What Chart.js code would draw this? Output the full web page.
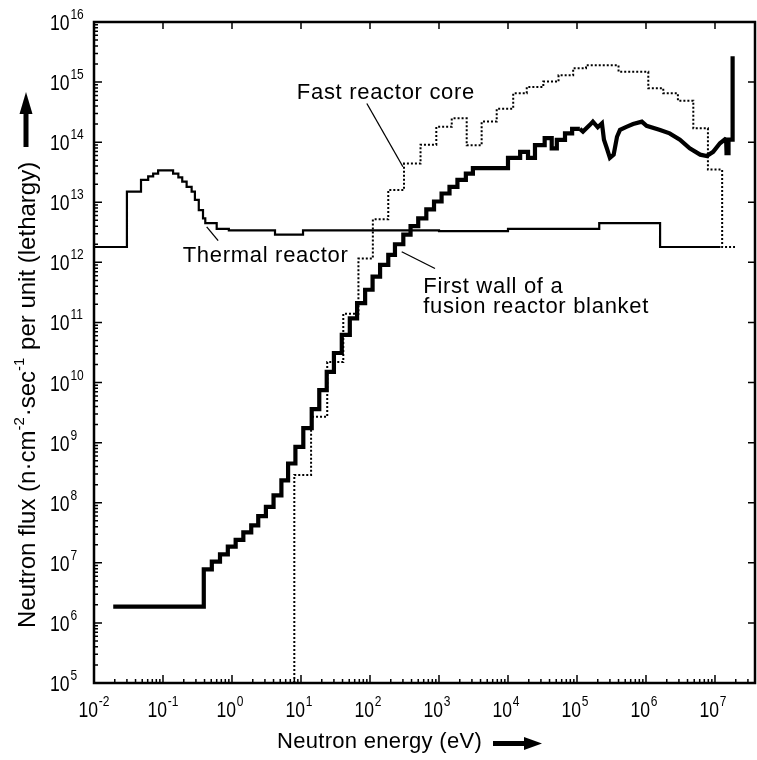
<!DOCTYPE html>
<html>
<head>
<meta charset="utf-8">
<script src="https://cdn.jsdelivr.net/npm/chart.js@4.4.1/dist/chart.umd.min.js"></script>
<style>
  body { margin: 0; background: #fff; }
  canvas { display: block; }
</style>
</head>
<body>
<canvas id="mygraph" width="757" height="760"></canvas>
<script>
// energies in eV = left edge of each step, last value closes the line
const thermalEnergy = [0.01, 0.03, 0.048, 0.061, 0.072, 0.085, 0.14, 0.167, 0.19, 0.22, 0.26, 0.29, 0.33, 0.38, 0.41, 0.6, 0.9, 4.2, 10.7, 1000, 1e4, 2.1e5, 1.6e6, 1.2e7]
const thermalFlux = [1.8e12, 1.5e13, 2.35e13, 2.7e13, 3.0e13, 3.4e13, 3.0e13, 2.6e13, 2.2e13, 1.8e13, 1.5e13, 1.1e13, 7.4e12, 5.4e12, 4.5e12, 3.6e12, 3.4e12, 2.9e12, 3.4e12, 3.3e12, 3.6e12, 4.5e12, 1.8e12, 1.8e12]

const fastEnergy = [8, 8, 14, 24, 41, 68, 110, 184, 311, 540, 914, 1530, 2520, 4150, 6860, 1.19e4, 1.87e4, 3.25e4, 5.4e4, 8.8e4, 1.35e5, 4.0e5, 1.08e6, 1.78e6, 2.9e6, 4.85e6, 7.9e6, 1.27e7, 1.95e7]
const fastFlux = [1e5, 2.9e8, 2.7e9, 2.2e10, 1.4e11, 1.16e12, 5.2e12, 1.6e13, 4.4e13, 9.1e13, 1.8e14, 2.5e14, 8.9e13, 2.2e14, 3.6e14, 6.5e14, 8.3e14, 1.02e15, 1.3e15, 1.7e15, 1.9e15, 1.48e15, 7.9e14, 6.5e14, 4.9e14, 1.7e14, 3.5e13, 1.8e12, 1.8e12]

// first wall of fusion blanket: staircase part, then the continuous part
const fusionStepEnergy = [0.019, 0.39, 0.51, 0.67, 0.87, 1.13, 1.46, 1.9, 2.4, 3.1, 4.0, 5.2, 6.5, 8.3, 10.8, 14.3, 18.4, 23.6, 30, 39, 51, 65, 85, 109, 140, 184, 230, 304, 387, 500, 655, 847, 1090, 1420, 1850, 2450, 3100, 3900, 1.0e4, 1.5e4, 1.95e4, 2.46e4, 3.4e4, 4.3e4, 5.1e4, 6.7e4, 8.5e4, 1.1e5]
const fusionStepFlux = [1.87e6, 7.8e6, 1.05e7, 1.38e7, 1.86e7, 2.4e7, 3.2e7, 4.2e7, 6.0e7, 8.5e7, 1.33e8, 2.36e8, 4.5e8, 8.5e8, 1.74e9, 3.6e9, 7.5e9, 1.5e10, 3.1e10, 6.2e10, 1.17e11, 2.1e11, 3.5e11, 5.8e11, 9.1e11, 1.33e12, 2.0e12, 2.9e12, 4.0e12, 5.4e12, 7.6e12, 1.03e13, 1.4e13, 1.8e13, 2.35e13, 3.0e13, 3.7e13, 3.7e13, 5.5e13, 6.9e13, 5.5e13, 8.9e13, 1.17e14, 7.9e13, 1.09e14, 1.4e14, 1.66e14, 1.66e14]
const fusionCurveEnergy = [1.1e5, 1.22e5, 1.54e5, 1.7e5, 2.0e5, 2.3e5, 2.46e5, 2.7e5, 3.0e5, 3.4e5, 3.8e5, 4.2e5, 5.2e5, 6.5e5, 8.7e5, 1.02e6, 1.6e6, 2.2e6, 3.1e6, 4.3e6, 6.1e6, 7.6e6, 9.4e6, 1.18e7, 1.4e7, 1.45e7, 1.47e7, 1.55e7, 1.57e7, 1.8e7, 1.8e7]
const fusionCurveFlux = [1.66e14, 1.5e14, 1.94e14, 2.2e14, 1.77e14, 2.06e14, 1.1e14, 8.0e13, 5.5e13, 6.2e13, 1.23e14, 1.6e14, 1.8e14, 2.0e14, 2.2e14, 1.87e14, 1.6e14, 1.4e14, 1.1e14, 7.9e13, 6.2e13, 5.9e13, 6.9e13, 9.6e13, 1.12e14, 1.1e14, 6.6e13, 6.6e13, 1.1e14, 1.1e14, 2.7e15]

const xDecades = [-2, -1, 0, 1, 2, 3, 4, 5, 6, 7]
const yDecades = [5, 6, 7, 8, 9, 10, 11, 12, 13, 14, 15, 16]

const FONT = '"Liberation Sans", Arial, sans-serif'

function toPoints(xs, ys) {
  return xs.map((x, i) => ({ x: x, y: ys[i] }))
}

// "10" with a raised exponent, a bit condensed like the original lettering
function drawPower(ctx, left, baseline, exp) {
  ctx.save()
  ctx.translate(left, baseline)
  ctx.scale(0.8, 1)
  ctx.font = '22px ' + FONT
  ctx.textAlign = 'left'
  ctx.textBaseline = 'alphabetic'
  ctx.fillText('10', 0, 0)
  const w = ctx.measureText('10').width
  ctx.font = '15px ' + FONT
  ctx.fillText(String(exp), w + 1, -11)
  ctx.restore()
}
function powerBaseWidth(ctx) {
  ctx.save()
  ctx.font = '22px ' + FONT
  const w = ctx.measureText('10').width * 0.8
  ctx.restore()
  return w
}

const axesPlugin = {
  id: 'axes',
  afterDatasetsDraw(chart) {
    const ctx = chart.ctx
    const area = chart.chartArea
    const xs = chart.scales.x
    const ys = chart.scales.y
    ctx.save()
    ctx.strokeStyle = '#000'
    ctx.fillStyle = '#000'

    // frame
    ctx.lineWidth = 2.5
    ctx.strokeRect(area.left, area.top, area.right - area.left, area.bottom - area.top)

    // ticks, all pointing inwards
    ctx.lineWidth = 1.5
    ctx.beginPath()
    xDecades.forEach(d => {
      for (let m = 1; m <= 9; m++) {
        const v = m * Math.pow(10, d)
        if (v > xs.max) break
        const px = xs.getPixelForValue(v)
        ctx.moveTo(px, area.bottom)
        ctx.lineTo(px, area.bottom - (m === 1 ? 8 : 4))
        if (m === 1) {
          ctx.moveTo(px, area.top)
          ctx.lineTo(px, area.top + 7)
        }
      }
    })
    yDecades.forEach(d => {
      for (let m = 1; m <= 9; m++) {
        const v = m * Math.pow(10, d)
        if (v > ys.max) break
        const py = ys.getPixelForValue(v)
        ctx.moveTo(area.left, py)
        ctx.lineTo(area.left + (m === 1 ? 8 : 4), py)
        if (m === 1) {
          ctx.moveTo(area.right, py)
          ctx.lineTo(area.right - 7, py)
        }
      }
    })
    ctx.stroke()

    // tick labels
    const bw = powerBaseWidth(ctx)
    xDecades.forEach(d => {
      const px = xs.getPixelForValue(Math.pow(10, d))
      drawPower(ctx, px + 4 - bw, area.bottom + 34, d)
    })
    yDecades.forEach(d => {
      const py = ys.getPixelForValue(Math.pow(10, d))
      drawPower(ctx, 50, py + 8, d)
    })

    // curve labels with leader lines
    ctx.font = '22px ' + FONT
    ctx.letterSpacing = '0.7px'
    ctx.textAlign = 'left'
    ctx.textBaseline = 'alphabetic'
    const P = (e, f) => [xs.getPixelForValue(e), ys.getPixelForValue(f)]
    let p = P(8.7, 5.24e14); ctx.fillText('Fast reactor core', p[0], p[1])
    p = P(0.193, 1.03e12); ctx.fillText('Thermal reactor', p[0], p[1])
    p = P(592, 3.06e11); ctx.fillText('First wall of a', p[0], p[1])
    p = P(592, 1.42e11); ctx.fillText('fusion reactor blanket', p[0], p[1])
    ctx.lineWidth = 1.3
    const leader = (e1, f1, e2, f2) => {
      const a = P(e1, f1), b = P(e2, f2)
      ctx.beginPath(); ctx.moveTo(a[0], a[1]); ctx.lineTo(b[0], b[1]); ctx.stroke()
    }
    leader(90, 4.4e14, 300, 3.9e13)
    leader(0.43, 3.9e12, 0.63, 2.3e12)
    leader(288, 1.5e12, 875, 7.9e11)

    // x axis title + arrow
    ctx.letterSpacing = '0.3px'
    ctx.fillText('Neutron energy (eV)', 277, 748)
    ctx.fillRect(493, 741, 33, 5)
    ctx.beginPath(); ctx.moveTo(524, 737); ctx.lineTo(542, 743.5); ctx.lineTo(524, 750); ctx.closePath(); ctx.fill()

    // y axis title (rotated) + arrow
    ctx.save()
    ctx.letterSpacing = '0px'
    ctx.translate(35, 628)
    ctx.rotate(-Math.PI / 2)
    const parts = [['Neutron flux (n\u00b7cm', false], ['-2', true], ['\u00b7sec', false], ['-1', true], [' per unit (lethargy)', false]]
    let x = 0
    parts.forEach(([t, sup]) => {
      ctx.font = (sup ? '15px ' : '24px ') + FONT
      ctx.fillText(t, x, sup ? -11 : 0)
      x += ctx.measureText(t).width + (sup ? 1 : 0)
    })
    ctx.restore()
    ctx.fillRect(23.5, 110, 5, 37)
    ctx.beginPath(); ctx.moveTo(19.5, 114); ctx.lineTo(26, 92); ctx.lineTo(32.5, 114); ctx.closePath(); ctx.fill()

    ctx.restore()
  }
}

const lineStyle = { borderColor: '#000', pointRadius: 0, fill: false, borderJoinStyle: 'miter', tension: 0 }

const config = {
  type: 'line',
  data: {
    datasets: [
      Object.assign({ label: 'Thermal reactor', data: toPoints(thermalEnergy, thermalFlux), stepped: true, borderWidth: 2.2 }, lineStyle),
      Object.assign({ label: 'Fast reactor core', data: toPoints(fastEnergy, fastFlux), stepped: true, borderWidth: 2, borderDash: [2, 2] }, lineStyle),
      Object.assign({ label: 'First wall of a fusion reactor blanket', data: toPoints(fusionStepEnergy, fusionStepFlux), stepped: true, borderWidth: 4.2 }, lineStyle),
      Object.assign({ label: 'First wall (continuous part)', data: toPoints(fusionCurveEnergy, fusionCurveFlux), borderWidth: 4.2 }, lineStyle)
    ]
  },
  options: {
    responsive: false,
    animation: false,
    layout: { padding: { left: 94, right: 2, top: 22, bottom: 77 } },
    plugins: { legend: { display: false }, tooltip: { enabled: false } },
    scales: {
      x: { type: 'logarithmic', display: false, min: 0.01, max: 3.8e7 },
      y: { type: 'logarithmic', display: false, min: 1e5, max: 1e16 }
    }
  },
  plugins: [axesPlugin]
}

const mygraph = new Chart(document.getElementById('mygraph'), config)
</script>
</body>
</html>
